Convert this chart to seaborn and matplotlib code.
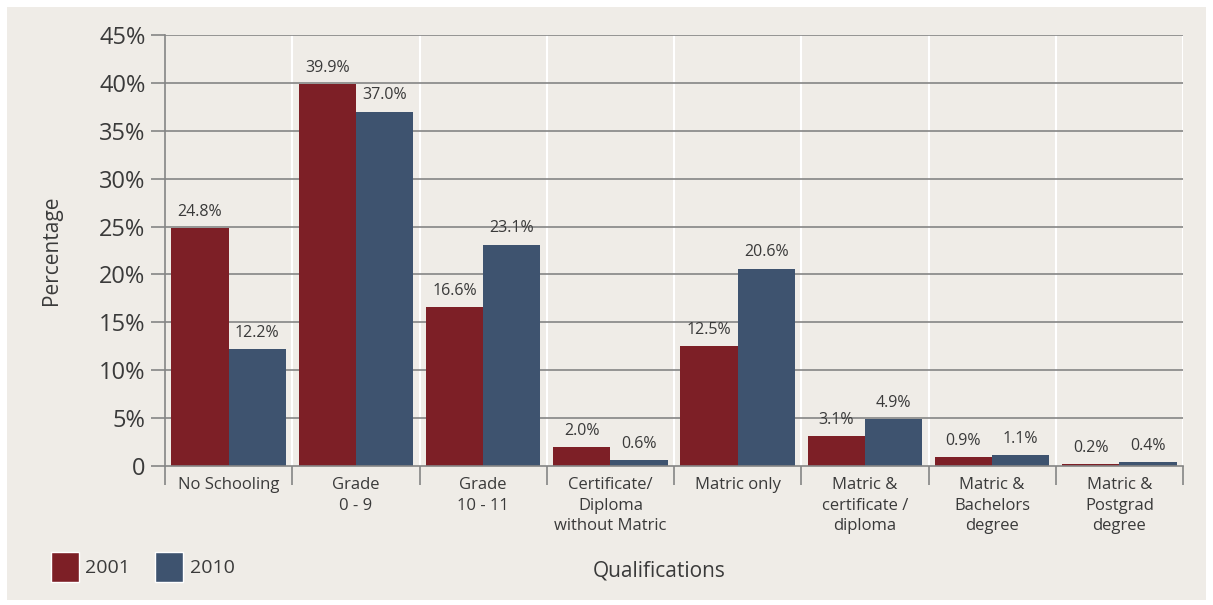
import numpy as np
import pandas as pd
import matplotlib
matplotlib.use('Agg')
import matplotlib.pyplot as plt
import seaborn as sns
from matplotlib.patches import Patch

categories = ['No Schooling', 'Grade\n0 - 9', 'Grade\n10 - 11',
              'Certificate/\nDiploma\nwithout Matric', 'Matric only',
              'Matric &\ncertificate /\ndiploma', 'Matric &\nBachelors\ndegree',
              'Matric &\nPostgrad\ndegree']
values_2001 = [24.8, 39.9, 16.6, 2.0, 12.5, 3.1, 0.9, 0.2]
values_2010 = [12.2, 37.0, 23.1, 0.6, 20.6, 4.9, 1.1, 0.4]
years = ['2001', '2010']
y_ticks = [0, 5, 10, 15, 20, 25, 30, 35, 40, 45]
y_ticklabels = ['0', '5%', '10%', '15%', '20%', '25%', '30%', '35%', '40%', '45%']

df = pd.DataFrame({
    'qualification': categories * 2,
    'year': [years[0]] * len(categories) + [years[1]] * len(categories),
    'pct': values_2001 + values_2010,
})

red = '#7d1f26'
blue = '#3e536f'
bg = '#efece7'
txt = '#3a3a3a'
grid = '#858585'

sns.set_style('white')
plt.rcParams['font.family'] = ['Open Sans', 'DejaVu Sans']

fig = plt.figure(figsize=(12.13, 6.05), dpi=100)
fig.patch.set_facecolor('white')
# beige panel inside a thin white border
fig.patches.append(plt.Rectangle((7 / 1213, 5 / 605), 1199 / 1213, 593 / 605,
                                 transform=fig.transFigure, facecolor=bg,
                                 edgecolor='none', zorder=-10))

ax = fig.add_axes([165 / 1213, 1 - 466 / 605, 1018 / 1213, 431 / 605])
ax.set_facecolor(bg)

sns.barplot(data=df, x='qualification', y='pct', hue='year',
            palette=[red, blue], width=0.9, gap=0, saturation=1,
            linewidth=0, ax=ax, legend=False, zorder=3)

for c in ax.containers:
    ax.bar_label(c, labels=[f'{v:.1f}%' for v in c.datavalues], padding=6,
                 fontsize=11.5, color=txt, zorder=4)

ax.set_ylim(0, 45)
ax.set_xlim(-0.5, len(categories) - 0.5)
ax.set_yticks(y_ticks)
ax.set_yticklabels(y_ticklabels, fontsize=17, color=txt)
for y in y_ticks[1:]:
    ax.axhline(y, color=grid, lw=1.2, zorder=1)
for i in range(1, len(categories) + 1):
    ax.axvline(i - 0.5, color='white', lw=1.5, zorder=0.5)

ax.tick_params(axis='y', left=True, length=10, width=1.2, color=grid, pad=4)
ax.tick_params(axis='x', length=0, pad=8)
ax.set_xticks(range(len(categories)))
ax.set_xticklabels(categories, fontsize=12, color=txt, linespacing=1.38)

# boundary ticks under the axis
ax.set_xticks(np.arange(-0.5, len(categories), 1), minor=True)
ax.tick_params(axis='x', which='minor', bottom=True, length=14, width=1.2,
               color=grid, direction='out')

for s in ['top', 'right']:
    ax.spines[s].set_visible(False)
for s in ['left', 'bottom']:
    ax.spines[s].set_color(grid)
    ax.spines[s].set_linewidth(1.2)
    ax.spines[s].set_zorder(5)

ax.set_xlabel('Qualifications', fontsize=15, color=txt)
ax.xaxis.set_label_coords(0.485, -0.22)
ax.set_ylabel('Percentage', fontsize=15, color=txt)
ax.yaxis.set_label_coords(-0.101, 0.5)

handles = [Patch(facecolor=red, label=years[0]),
           Patch(facecolor=blue, label=years[1])]
fig.legend(handles=handles, loc='lower left', bbox_to_anchor=(33 / 1213, 6 / 605),
           ncol=2, frameon=False, handlelength=1.45, handleheight=1.95,
           handletextpad=0.35, columnspacing=1.25,
           prop={'size': 14})
for t in fig.legends[0].get_texts():
    t.set_color(txt)

fig.savefig('out.png', dpi=100, facecolor=fig.get_facecolor())
